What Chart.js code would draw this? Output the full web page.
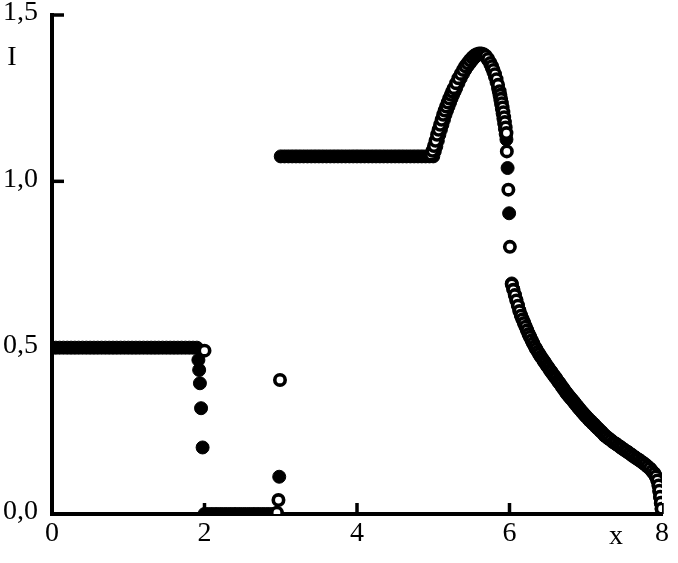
<!DOCTYPE html>
<html>
<head>
<meta charset="utf-8">
<script src="https://cdn.jsdelivr.net/npm/chart.js@4.4.1/dist/chart.umd.min.js"></script>
<style>
  html, body { margin: 0; padding: 0; background: #fff; }
  canvas { display: block; }
</style>
</head>
<body>
<canvas id="intensity-chart" width="678" height="563"></canvas>
<script>
// Axis texts
const xTickLabels = ["0", "2", "4", "6", "8"];
const yTickLabels = ["0,0", "0,5", "1,0", "1,5"];
const xTitle = "x";
const yTitle = "I";

// Filled circles
const filledX = [
  0, 0.05, 0.1, 0.15, 0.2, 0.25, 0.3, 0.35, 0.4, 0.45, 0.5, 0.55, 0.6, 0.65, 0.7, 0.75, 0.8, 0.85, 0.9, 0.95,
  1, 1.05, 1.1, 1.15, 1.2, 1.25, 1.3, 1.35, 1.4, 1.45, 1.5, 1.55, 1.6, 1.65, 1.7, 1.75, 1.8, 1.85, 1.9,
  1.92, 1.93, 1.94, 1.955, 1.975,
  2, 2.05, 2.1, 2.15, 2.2, 2.25, 2.3, 2.35, 2.4, 2.45, 2.5, 2.55, 2.6, 2.65, 2.7, 2.75, 2.8, 2.85, 2.9, 2.95,
  2.98,
  3, 3.05, 3.1, 3.15, 3.2, 3.25, 3.3, 3.35, 3.4, 3.45, 3.5, 3.55, 3.6, 3.65, 3.7, 3.75, 3.8, 3.85, 3.9, 3.95,
  4, 4.05, 4.1, 4.15, 4.2, 4.25, 4.3, 4.35, 4.4, 4.45, 4.5, 4.55, 4.6, 4.65, 4.7, 4.75, 4.8, 4.85, 4.9, 4.95, 5,
  5.02, 5.04, 5.06, 5.08, 5.1, 5.12, 5.14, 5.16, 5.18, 5.2, 5.22, 5.24, 5.26, 5.28, 5.3,
  5.33, 5.36, 5.39, 5.42, 5.45, 5.48, 5.51, 5.54, 5.57, 5.6, 5.63, 5.66, 5.69, 5.72, 5.75,
  5.77, 5.79, 5.81, 5.83, 5.85, 5.86, 5.87, 5.88, 5.89, 5.9, 5.91, 5.92, 5.93, 5.94, 5.95, 5.96,
  5.975, 5.995,
  6.03, 6.05, 6.07, 6.09, 6.11, 6.13, 6.15, 6.17, 6.19, 6.21, 6.23, 6.25, 6.27, 6.29, 6.31,
  6.35, 6.4, 6.45, 6.5, 6.55, 6.6, 6.65, 6.7, 6.75, 6.8, 6.85, 6.9, 6.95, 7,
  7.05, 7.1, 7.15, 7.2, 7.25, 7.3, 7.35, 7.4, 7.45, 7.5, 7.55, 7.6, 7.65, 7.7, 7.75, 7.8, 7.85,
  7.88, 7.9, 7.92, 7.94, 7.955, 7.965, 7.975, 7.985, 7.995,
];
const filledY = [
  0.5, 0.5, 0.5, 0.5, 0.5, 0.5, 0.5, 0.5, 0.5, 0.5, 0.5, 0.5, 0.5, 0.5, 0.5, 0.5, 0.5, 0.5, 0.5, 0.5,
  0.5, 0.5, 0.5, 0.5, 0.5, 0.5, 0.5, 0.5, 0.5, 0.5, 0.5, 0.5, 0.5, 0.5, 0.5, 0.5, 0.5, 0.5, 0.5,
  0.463, 0.433, 0.393, 0.318, 0.2,
  0, 0, 0, 0, 0, 0, 0, 0, 0, 0, 0, 0, 0, 0, 0, 0, 0, 0, 0, 0,
  0.112,
  1.075, 1.075, 1.075, 1.075, 1.075, 1.075, 1.075, 1.075, 1.075, 1.075, 1.075, 1.075, 1.075, 1.075, 1.075, 1.075, 1.075, 1.075, 1.075, 1.075,
  1.075, 1.075, 1.075, 1.075, 1.075, 1.075, 1.075, 1.075, 1.075, 1.075, 1.075, 1.075, 1.075, 1.075, 1.075, 1.075, 1.075, 1.075, 1.075, 1.075, 1.075,
  1.09, 1.105, 1.122, 1.14, 1.155, 1.17, 1.185, 1.2, 1.213, 1.225, 1.237, 1.249, 1.26, 1.27, 1.28,
  1.295, 1.31, 1.323, 1.335, 1.346, 1.355, 1.364, 1.372, 1.378, 1.382, 1.383, 1.381, 1.374, 1.364, 1.351,
  1.34, 1.328, 1.314, 1.298, 1.28, 1.27, 1.258, 1.245, 1.232, 1.218, 1.204, 1.189, 1.174, 1.158, 1.142, 1.126,
  1.04, 0.904,
  0.693, 0.676, 0.66, 0.644, 0.628, 0.612, 0.598, 0.587, 0.576, 0.565, 0.554, 0.543, 0.533, 0.523, 0.513,
  0.496, 0.477, 0.46, 0.443, 0.427, 0.411, 0.395, 0.379, 0.363, 0.349, 0.335, 0.321, 0.307, 0.294,
  0.282, 0.271, 0.259, 0.248, 0.236, 0.227, 0.218, 0.21, 0.202, 0.194, 0.186, 0.178, 0.17, 0.162, 0.154, 0.145, 0.135,
  0.126, 0.12, 0.112, 0.1, 0.085, 0.068, 0.05, 0.032, 0.015,
];

// Open circles (drawn on top; on the flat parts they sit under the filled band)
const openX = [
  2,
  2.95, 2.97, 2.99,
  4.97, 4.99, 5.01, 5.03, 5.05, 5.07, 5.09, 5.11, 5.13, 5.15, 5.17, 5.19, 5.21, 5.23, 5.25, 5.27,
  5.3, 5.33, 5.36, 5.39, 5.42, 5.45, 5.48, 5.51, 5.54, 5.57, 5.6, 5.63,
  5.66, 5.69, 5.72, 5.75, 5.77, 5.79, 5.81, 5.83, 5.85, 5.87, 5.88, 5.89, 5.9, 5.91, 5.92, 5.93, 5.94, 5.95, 5.96,
  5.965, 5.985, 6.005,
  6.03, 6.05, 6.07, 6.09, 6.11, 6.13, 6.15, 6.17, 6.19, 6.21, 6.23, 6.25,
  6.27, 6.29, 6.31, 6.33, 6.35, 6.37, 6.39, 6.41, 6.43, 6.45, 6.47, 6.49, 6.51, 6.53, 6.55, 6.57, 6.59,
  6.61, 6.63, 6.65, 6.67, 6.69, 6.71, 6.73, 6.75, 6.77, 6.79, 6.81, 6.83, 6.85, 6.87, 6.89, 6.91, 6.93,
  6.95, 6.97, 6.99, 7.01, 7.03, 7.05, 7.07, 7.09, 7.11, 7.13, 7.15, 7.17, 7.19, 7.21, 7.23, 7.25, 7.27,
  7.3, 7.33, 7.36, 7.39, 7.42, 7.45, 7.48, 7.51, 7.54, 7.57, 7.6, 7.63, 7.66, 7.69, 7.72, 7.75, 7.78, 7.81, 7.84, 7.87,
  7.9, 7.92, 7.94, 7.955, 7.965, 7.975, 7.985, 7.995,
];
const openY = [
  0.491,
  0.004, 0.042, 0.403,
  1.08, 1.092, 1.106, 1.122, 1.14, 1.155, 1.17, 1.185, 1.2, 1.213, 1.225, 1.237, 1.249, 1.26, 1.27, 1.28,
  1.295, 1.31, 1.323, 1.335, 1.346, 1.355, 1.364, 1.372, 1.378, 1.382, 1.384, 1.384,
  1.382, 1.377, 1.368, 1.356, 1.346, 1.335, 1.322, 1.307, 1.29, 1.271, 1.26, 1.248, 1.235, 1.222, 1.208, 1.193, 1.178, 1.162, 1.145,
  1.09, 0.975, 0.803,
  0.69, 0.674, 0.658, 0.642, 0.626, 0.61, 0.596, 0.585, 0.574, 0.563, 0.552, 0.541,
  0.532, 0.522, 0.513, 0.504, 0.496, 0.488, 0.481, 0.473, 0.467, 0.46, 0.453, 0.446, 0.44, 0.433, 0.427, 0.42, 0.414,
  0.408, 0.401, 0.395, 0.389, 0.382, 0.376, 0.369, 0.363, 0.357, 0.352, 0.346, 0.341, 0.335, 0.329, 0.324, 0.318, 0.313,
  0.307, 0.302, 0.297, 0.292, 0.287, 0.282, 0.278, 0.273, 0.269, 0.264, 0.259, 0.255, 0.25, 0.246, 0.241, 0.236, 0.232,
  0.227, 0.222, 0.216, 0.212, 0.207, 0.202, 0.197, 0.192, 0.188, 0.183, 0.178, 0.173, 0.168, 0.164, 0.159, 0.154, 0.149, 0.143, 0.137, 0.129,
  0.122, 0.113, 0.101, 0.086, 0.07, 0.052, 0.034, 0.016,
];

const toPoints = (xs, ys) => xs.map((x, i) => ({ x: x, y: ys[i] }));

const serifFont = { family: "'Liberation Serif', 'Times New Roman', serif", size: 28, lineHeight: 1 };

// Inward tick marks + axis titles
const axisDecor = {
  id: "axisDecor",
  beforeDatasetsDraw(chart) {
    const { ctx, chartArea, scales } = chart;
    ctx.save();
    ctx.strokeStyle = "#000";
    ctx.lineWidth = 3.5;
    scales.x.ticks.forEach((tick) => {
      const px = scales.x.getPixelForValue(tick.value);
      ctx.beginPath();
      ctx.moveTo(px, chartArea.bottom);
      ctx.lineTo(px, chartArea.bottom - 11);
      ctx.stroke();
    });
    scales.y.ticks.forEach((tick) => {
      const py = scales.y.getPixelForValue(tick.value);
      ctx.beginPath();
      ctx.moveTo(chartArea.left, py);
      ctx.lineTo(chartArea.left + 12, py);
      ctx.stroke();
    });
    ctx.restore();
  },
  afterDraw(chart) {
    const { ctx, chartArea } = chart;
    ctx.save();
    ctx.fillStyle = "#000";
    ctx.font = "28px 'Liberation Serif', 'Times New Roman', serif";
    ctx.textAlign = "center";
    ctx.textBaseline = "alphabetic";
    ctx.fillText(yTitle, chartArea.left - 40, chartArea.top + 50);
    ctx.fillText(xTitle, chartArea.right - 46, chartArea.bottom + 30);
    ctx.restore();
  },
};

const intensityChart = document.querySelector("#intensity-chart");
if (intensityChart) {
  new Chart(intensityChart, {
    type: "scatter",
    data: {
      datasets: [
        {
          label: "open",
          data: toPoints(openX, openY),
          pointRadius: 5.2,
          pointBorderWidth: 3.6,
          pointBackgroundColor: "#fff",
          pointBorderColor: "#000",
          clip: 0,
          order: 0,
        },
        {
          label: "filled",
          data: toPoints(filledX, filledY),
          pointRadius: 6.5,
          pointBorderWidth: 1,
          pointBackgroundColor: "#000",
          pointBorderColor: "#000",
          clip: 0,
          order: 1,
        },
      ],
    },
    options: {
      responsive: false,
      animation: false,
      events: [],
      layout: { padding: { top: 15, right: 16, left: 0, bottom: 0 } },
      plugins: {
        legend: { display: false },
        tooltip: { enabled: false },
      },
      scales: {
        x: {
          type: "linear",
          min: 0,
          max: 8,
          afterFit: (scale) => {
            scale.height = 49;
          },
          grid: { display: true, drawOnChartArea: false, drawTicks: false },
          border: { display: true, color: "#000", width: 4 },
          ticks: {
            stepSize: 2,
            padding: 6,
            color: "#000",
            font: serifFont,
            maxRotation: 0,
            callback: (value, index) => xTickLabels[index],
          },
        },
        y: {
          type: "linear",
          min: 0,
          max: 1.5,
          afterFit: (scale) => {
            scale.width = 52;
            scale.paddingTop = 0;
            scale.paddingBottom = 0;
          },
          grid: { display: true, drawOnChartArea: false, drawTicks: false },
          border: { display: true, color: "#000", width: 4 },
          ticks: {
            stepSize: 0.5,
            padding: 14,
            labelOffset: -2,
            color: "#000",
            font: serifFont,
            callback: (value, index) => yTickLabels[index],
          },
        },
      },
    },
    plugins: [axisDecor],
  });
}
</script>
</body>
</html>
